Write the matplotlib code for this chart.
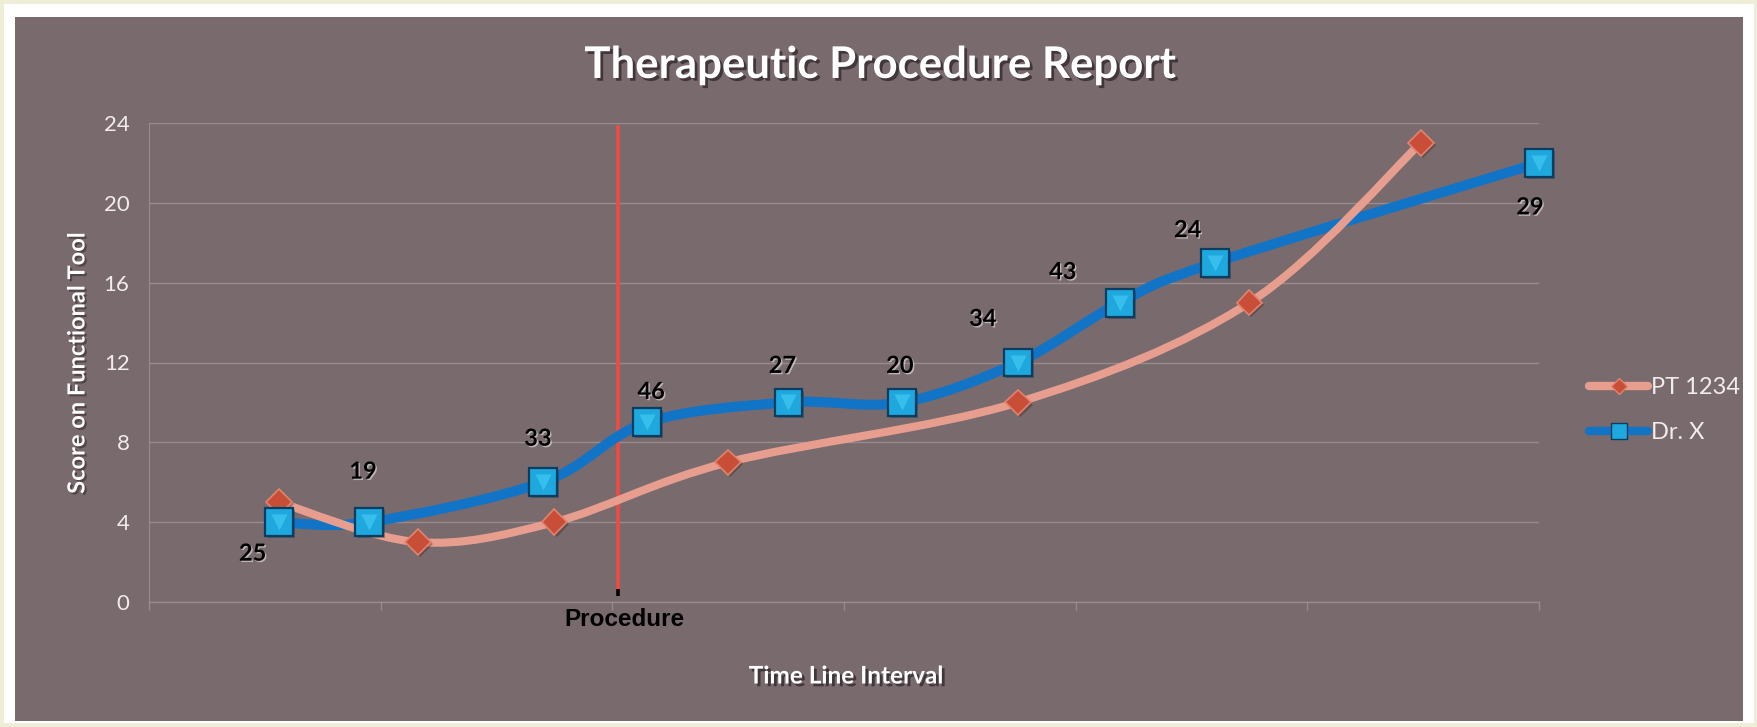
import matplotlib
matplotlib.use("Agg")
import matplotlib.pyplot as plt
import matplotlib.patheffects as pe
from matplotlib.path import Path
from matplotlib.patches import PathPatch, Rectangle
from matplotlib.lines import Line2D

# ---------------- data ----------------
dr_x_time = [5.6, 9.5, 17.0, 21.5, 27.6, 32.5, 37.5, 41.9, 46.0, 60.0]
dr_x_score = [4, 4, 6, 9, 10, 10, 12, 15, 17, 22]
dr_x_labels = ["25", "19", "33", "46", "27", "20", "34", "43", "24", "29"]

pt_time = [5.6, 11.6, 17.5, 25.0, 37.5, 47.5, 54.9]
pt_score = [5, 3, 4, 7, 10, 15, 23]

procedure_time = 20.25
y_ticks = [0, 4, 8, 12, 16, 20, 24]
x_ticks = [0, 10, 20, 30, 40, 50, 60]

# label offsets in pixels (dx, dy)
label_offsets = [(-26, -31), (-6, 51), (-5, 44), (4, 31), (-6, 37), (-2, 37),
                 (-35, 44), (-57, 31), (-27, 33), (-9, -44)]

# ---------------- style ----------------
W, H = 1758, 727
PANEL = "#796a6e"
CREAM = "#eeeed8"
GRID = "#988b8e"
BLUE = "#1174c6"
PINK = "#e89e8e"
TXT = "#f2ecec"


def smooth_path(xs, ys):
    pts = list(zip(xs, ys))
    n = len(pts)
    verts = [pts[0]]
    codes = [Path.MOVETO]
    for i in range(n - 1):
        p0 = pts[i - 1] if i > 0 else pts[i]
        p1 = pts[i]
        p2 = pts[i + 1]
        p3 = pts[i + 2] if i + 2 < n else pts[i + 1]
        c1 = (p1[0] + (p2[0] - p0[0]) / 6.0, p1[1] + (p2[1] - p0[1]) / 6.0)
        c2 = (p2[0] - (p3[0] - p1[0]) / 6.0, p2[1] - (p3[1] - p1[1]) / 6.0)
        verts += [c1, c2, p2]
        codes += [Path.CURVE4] * 3
    return Path(verts, codes)


fig = plt.figure(figsize=(W / 100, H / 100), dpi=100)
fig.patch.set_facecolor(CREAM)


def fx(px):
    return px / W


def fy(py):
    return 1 - py / H


fig.patches.append(Rectangle((fx(4), fy(723)), fx(1754) - fx(4), fy(4) - fy(723),
                             transform=fig.transFigure, facecolor="white",
                             edgecolor="none", zorder=-3))
fig.patches.append(Rectangle((fx(15), fy(721)), fx(1743) - fx(15), fy(17) - fy(721),
                             transform=fig.transFigure, facecolor=PANEL,
                             edgecolor="none", zorder=-2))

ax = fig.add_axes([fx(149), fy(602), fx(1539) - fx(149), fy(123) - fy(602)])
ax.set_facecolor("none")
ax.set_xlim(0, 60)
ax.set_ylim(0, 24)
ax.set_yticks(y_ticks)
ax.set_xticks(x_ticks)
ax.set_xticklabels([])
ax.grid(axis="y", color=GRID, linewidth=1.0)
for s in ["top", "right"]:
    ax.spines[s].set_visible(False)
ax.spines["left"].set_color(GRID)
ax.spines["bottom"].set_color(GRID)
ax.spines["left"].set_linewidth(0.8)
ax.spines["bottom"].set_linewidth(1.0)
ax.tick_params(axis="x", direction="out", length=6, color=GRID, width=1)
ax.tick_params(axis="y", length=0, pad=14, labelcolor=TXT, labelsize=16)
for lab in ax.get_yticklabels():
    lab.set_fontfamily("Lato")

# smoothed lines
blue_patch = PathPatch(smooth_path(dr_x_time, dr_x_score), facecolor="none",
                       edgecolor=BLUE, linewidth=7.2, capstyle="round",
                       joinstyle="round", zorder=3)
ax.add_patch(blue_patch)
pink_patch = PathPatch(smooth_path(pt_time, pt_score), facecolor="none",
                       edgecolor=PINK, linewidth=5.8, capstyle="round",
                       joinstyle="round", zorder=4)
ax.add_patch(pink_patch)

# markers
ax.plot(pt_time, pt_score, linestyle="none", marker="D", ms=13,
        mfc="#c94e38", mec="#e0846e", mew=1.2, zorder=5, clip_on=False,
        path_effects=[pe.SimplePatchShadow(offset=(1.5, -1.5), alpha=0.35), pe.Normal()])
ax.plot(dr_x_time, dr_x_score, linestyle="none", marker="s", ms=20,
        mfc="#1ea8de", mec="#0b3d60", mew=1.6, zorder=6, clip_on=False,
        path_effects=[pe.SimplePatchShadow(offset=(1.5, -1.5), alpha=0.35), pe.Normal()])
ax.plot(dr_x_time, dr_x_score, linestyle="none", marker="v", ms=12,
        mfc="#3fc4f0", mec="none", zorder=7, clip_on=False, alpha=0.8)

# procedure line
ax.plot([procedure_time, procedure_time], [0.6, 23.8], color="#f04a42",
        linewidth=2.6, zorder=2)
ax.plot([procedure_time, procedure_time], [0.3, 0.65], color="black",
        linewidth=2.6, zorder=2, solid_capstyle="butt")
ax.annotate("Procedure", xy=(procedure_time, 0), xytext=(6, -17),
            textcoords="offset pixels", ha="center", va="center",
            fontsize=17.5, fontweight="bold", family="Liberation Sans", color="black",
            annotation_clip=False)

# data labels
for x, y, lab, (dx, dy) in zip(dr_x_time, dr_x_score, dr_x_labels, label_offsets):
    t = ax.annotate(lab, xy=(x, y), xytext=(dx, dy), textcoords="offset pixels",
                    ha="center", va="center", fontsize=17, fontweight="bold",
                    family="Lato", color="black", zorder=8, annotation_clip=False,
                    path_effects=[pe.withSimplePatchShadow(offset=(1, -1),
                                                           shadow_rgbFace="white",
                                                           alpha=0.5)])
    t.set_clip_on(False)

# titles
shadow = [pe.withSimplePatchShadow(offset=(2, -2), shadow_rgbFace="#2a2225", alpha=0.7)]
fig.text(0.5005, fy(65), "Therapeutic Procedure Report", ha="center", va="center",
         fontsize=31.5, fontweight="bold", family="Lato", color="white",
         path_effects=shadow)
fig.text(fx(846), fy(676), "Time Line Interval", ha="center", va="center",
         fontsize=17.5, fontweight="bold", family="Lato", color="white",
         path_effects=shadow)
fig.text(fx(77), fy(363), "Score on Functional Tool", ha="center", va="center",
         rotation=90, fontsize=17, fontweight="bold", family="Lato", color="white",
         path_effects=[pe.withSimplePatchShadow(offset=(1.5, -1.5),
                                                shadow_rgbFace="#2a2225", alpha=0.5)])

# legend
h_pt = Line2D([], [], color=PINK, linewidth=6, marker="D", ms=8,
              mfc="#c94e38", mec="#e0846e", solid_capstyle="round")
h_dr = Line2D([], [], color=BLUE, linewidth=6, marker="s", ms=12,
              mfc="#1ea8de", mec="#0b3d60", solid_capstyle="round")
leg = fig.legend([h_pt, h_dr], ["PT 1234", "Dr. X"], loc="center left",
                 bbox_to_anchor=(fx(1568), fy(410)), frameon=False,
                 handlelength=2.5, handletextpad=0.1, labelspacing=1.0,
                 prop={"family": "Lato", "size": 17})
for t in leg.get_texts():
    t.set_color(TXT)

fig.savefig("out.png", dpi=100, facecolor=fig.get_facecolor())
